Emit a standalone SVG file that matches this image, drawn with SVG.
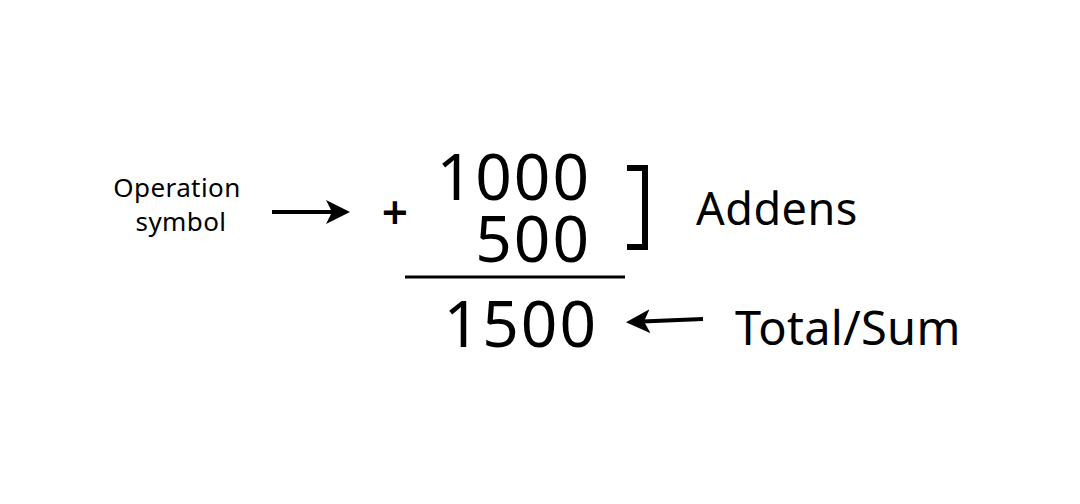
<svg xmlns="http://www.w3.org/2000/svg" width="1080" height="504" viewBox="0 0 1080 504">
<style>
text{font-family:"Noto Sans","DejaVu Sans",sans-serif;fill:#000}
.num{font-size:64px;letter-spacing:2px}
.arrow{stroke:#000;stroke-width:4;fill:none}
</style>
<defs>
<marker id="ah" markerWidth="6" markerHeight="6" refX="5" refY="3" orient="auto" markerUnits="strokeWidth">
<path d="M0,0 L6,3 L0,6 L1.5,3 Z" fill="#000"/>
</marker>
</defs>
<rect width="1080" height="504" fill="#fff"/>
<g id="label-operation">
<text x="177" y="197" font-size="26" letter-spacing="0.4" text-anchor="middle">Operation</text>
<text x="181" y="231" font-size="26" letter-spacing="0.4" text-anchor="middle">symbol</text>
</g>
<g id="plus"><text x="395" y="229" font-size="46" font-weight="600" text-anchor="middle">+</text></g>
<g id="addend1"><text class="num" x="591" y="200" text-anchor="end">1000</text></g>
<g id="addend2"><text class="num" x="591" y="262" text-anchor="end">500</text></g>
<g id="bracket"><path d="M627,168 H645 V247 H627" stroke="#000" stroke-width="6" fill="none"/></g>
<g id="sumline"><line x1="405" y1="277" x2="625" y2="277" stroke="#000" stroke-width="3"/></g>
<g id="total"><text class="num" x="598" y="347" text-anchor="end">1500</text></g>
<g id="label-addens"><text x="696" y="225" font-size="45" letter-spacing="0.5">Addens</text></g>
<g id="label-total"><text x="735" y="345" font-size="47" letter-spacing="0.3">Total/Sum</text></g>
<g id="connectors">
<line class="arrow" x1="272" y1="212" x2="346" y2="212" marker-end="url(#ah)"/>
<line class="arrow" x1="703" y1="319" x2="630" y2="322" marker-end="url(#ah)"/>
</g>
</svg>
